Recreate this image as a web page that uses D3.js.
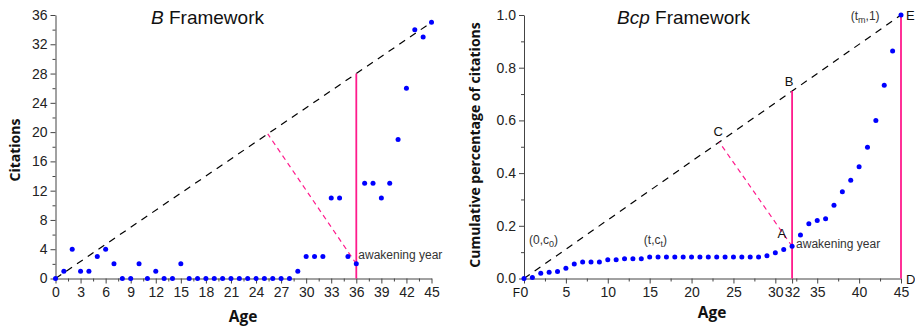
<!DOCTYPE html>
<html>
<head>
<meta charset="utf-8">
<script src="https://cdn.jsdelivr.net/npm/d3@7"></script>
<style>
  body { margin: 0; background: #fff; }
  svg text { font-family: "Liberation Sans", Arial, sans-serif; }
  .tick text { font-size: 14px; fill: #222; }
  .tick line, .domain { stroke: #444; }
  .title-axis { font-family: "Open Sans", sans-serif !important; font-weight: bold; font-size: 14px; fill: #111; }
  .note { font-size: 12px; fill: #333; }
</style>
</head>
<body>
<svg id="chart" width="915" height="328"></svg>
<script>
// citations per year of age (B framework)
const ages = d3.range(0, 46);
const citations = [0, 1, 4, 1, 1, 3, 4, 2, 0, 0, 2, 0, 1, 0, 0, 2,
    0, 0, 0, 0, 0, 0, 0, 0, 0, 0, 0, 0, 0, 1, 3, 3, 3, 11, 11, 3,
    2, 13, 13, 11, 13, 19, 26, 34, 33, 35];
// cumulative share of citations (Bcp framework)
const cumShare = [0, 0.004, 0.020, 0.024, 0.027, 0.039, 0.055, 0.063, 0.063, 0.063,
    0.071, 0.071, 0.075, 0.075, 0.075, 0.082, 0.082, 0.082, 0.082, 0.082,
    0.082, 0.082, 0.082, 0.082, 0.082, 0.082, 0.082, 0.082, 0.082, 0.086,
    0.098, 0.110, 0.122, 0.165, 0.208, 0.220, 0.227, 0.278, 0.329, 0.373,
    0.424, 0.498, 0.600, 0.733, 0.863, 1.0];

const leftXTicks = d3.range(0, 46, 3);
const leftYTicks = d3.range(0, 37, 4);
const rightXTicks = [0, 5, 10, 15, 20, 25, 30, 32, 35, 40, 45];
const rightYTicks = [0, 0.2, 0.4, 0.6, 0.8, 1.0];

const awakeB = 36, awakeBcp = 32, tMax = 45;

const svg = d3.select("#chart");
const pink = "#ff1a8c";
const blue = "#0000ff";

function drawAxes(x, y, xTicks, xMinor, yTicks, yMinor, yFmt) {
    const g = svg.append("g");
    g.append("g")
        .attr("transform", "translate(0," + y.range()[0] + ")")
        .call(d3.axisBottom(x).tickValues(xMinor).tickSize(3).tickFormat(""))
        .call(a => a.select(".domain").remove());
    g.append("g")
        .attr("transform", "translate(" + x.range()[0] + ",0)")
        .call(d3.axisLeft(y).tickValues(yMinor).tickSize(3).tickFormat(""))
        .call(a => a.select(".domain").remove());
    g.append("g")
        .attr("transform", "translate(0," + y.range()[0] + ")")
        .call(d3.axisBottom(x).tickValues(xTicks).tickSize(5).tickSizeOuter(0).tickPadding(4));
    g.append("g")
        .attr("transform", "translate(" + x.range()[0] + ",0)")
        .call(d3.axisLeft(y).tickValues(yTicks).tickSize(5).tickSizeOuter(0).tickPadding(3).tickFormat(yFmt));
    return g;
}

// perpendicular foot on the line from p0 to p1, in pixels
function foot(p, p0, p1) {
    const dx = p1[0] - p0[0], dy = p1[1] - p0[1];
    const t = ((p[0] - p0[0]) * dx + (p[1] - p0[1]) * dy) / (dx * dx + dy * dy);
    return [p0[0] + t * dx, p0[1] + t * dy];
}

// ---------- B framework ----------
const x1 = d3.scaleLinear().domain([0, 45]).range([55.5, 431.5]);
const y1 = d3.scaleLinear().domain([0, 36]).range([278.5, 15]);

drawAxes(x1, y1, leftXTicks, d3.range(1.5, 45, 3), leftYTicks, d3.range(2, 36, 4), d3.format("d"));

const a1 = [x1(0), y1(citations[0])], b1 = [x1(tMax), y1(citations[tMax])];
svg.append("line")
    .attr("x1", a1[0]).attr("y1", a1[1]).attr("x2", b1[0]).attr("y2", b1[1])
    .attr("stroke", "#000").attr("stroke-width", 1.2).attr("stroke-dasharray", "7,6");

const lineY1 = citations[tMax] / tMax * awakeB;
svg.append("line")
    .attr("x1", x1(awakeB)).attr("x2", x1(awakeB))
    .attr("y1", y1(0)).attr("y2", y1(lineY1))
    .attr("stroke", pink).attr("stroke-width", 1.8);

const p1 = [x1(awakeB), y1(citations[awakeB])];
const f1 = foot(p1, a1, b1);
svg.append("line")
    .attr("x1", p1[0]).attr("y1", p1[1]).attr("x2", f1[0]).attr("y2", f1[1])
    .attr("stroke", pink).attr("stroke-width", 1.2).attr("stroke-dasharray", "5,4");

svg.append("g").selectAll("circle")
    .data(ages)
    .join("circle")
    .attr("cx", d => x1(d))
    .attr("cy", d => y1(citations[d]))
    .attr("r", 2.5)
    .attr("fill", blue);

svg.append("text").attr("class", "note")
    .attr("x", x1(awakeB) + 2).attr("y", y1(citations[awakeB]) - 5)
    .text("awakening year");

const t1 = svg.append("text").attr("x", 151).attr("y", 24).style("font-size", "19px").attr("fill", "#111");
t1.append("tspan").style("font-style", "italic").text("B");
t1.append("tspan").text(" Framework");

svg.append("text").attr("class", "title-axis")
    .attr("transform", "translate(20,150) rotate(-90)")
    .attr("text-anchor", "middle").text("Citations");
svg.append("text").attr("class", "title-axis")
    .attr("x", 243).attr("y", 322).attr("text-anchor", "middle").style("font-size", "15.5px").text("Age");

// ---------- Bcp framework ----------
const x2 = d3.scaleLinear().domain([0, 45]).range([524, 901]);
const y2 = d3.scaleLinear().domain([0, 1]).range([278.5, 15]);

drawAxes(x2, y2, rightXTicks, d3.range(2.5, 45, 5), rightYTicks, d3.range(0.1, 1, 0.2), d3.format(".1f"));

const a2 = [x2(0), y2(0)], b2 = [x2(tMax), y2(1)];
svg.append("line")
    .attr("x1", a2[0]).attr("y1", a2[1]).attr("x2", b2[0]).attr("y2", b2[1])
    .attr("stroke", "#000").attr("stroke-width", 1.2).attr("stroke-dasharray", "7,6");

svg.append("line")
    .attr("x1", x2(awakeBcp)).attr("x2", x2(awakeBcp))
    .attr("y1", y2(0)).attr("y2", y2(awakeBcp / tMax))
    .attr("stroke", pink).attr("stroke-width", 1.8);
svg.append("line")
    .attr("x1", x2(tMax)).attr("x2", x2(tMax))
    .attr("y1", y2(0)).attr("y2", y2(1))
    .attr("stroke", pink).attr("stroke-width", 1.8);

const p2 = [x2(awakeBcp), y2(cumShare[awakeBcp])];
const f2 = foot(p2, a2, b2);
svg.append("line")
    .attr("x1", p2[0]).attr("y1", p2[1]).attr("x2", f2[0]).attr("y2", f2[1])
    .attr("stroke", pink).attr("stroke-width", 1.2).attr("stroke-dasharray", "5,4");

svg.append("g").selectAll("circle")
    .data(ages)
    .join("circle")
    .attr("cx", d => x2(d))
    .attr("cy", d => y2(cumShare[d]))
    .attr("r", 2.5)
    .attr("fill", blue);

svg.append("text").attr("class", "note")
    .attr("x", x2(awakeBcp) + 4).attr("y", y2(cumShare[awakeBcp]) + 2)
    .text("awakening year");

function label(txt, x, y, anchor, size) {
    return svg.append("text").attr("class", "note").style("font-size", (size || 13) + "px").style("fill", "#111")
        .attr("x", x).attr("y", y).attr("text-anchor", anchor || "middle").text(txt);
}
label("A", x2(awakeBcp - 1) - 2, y2(cumShare[awakeBcp]) - 8);
label("B", x2(awakeBcp) - 3, y2(awakeBcp / tMax) - 5);
label("C", f2[0] - 1, f2[1] - 6);
label("D", x2(tMax) + 5, y2(0) + 5, "start");
label("E", x2(tMax) + 5, y2(1) + 5, "start");
label("F", x2(0) - 4, y2(0) + 18, "end", 12);

function subLabel(pre, sub, post, x, y) {
    const t = svg.append("text").attr("class", "note").attr("x", x).attr("y", y);
    t.append("tspan").text(pre);
    t.append("tspan").attr("dy", 3).style("font-size", "9px").text(sub);
    t.append("tspan").attr("dy", -3).text(post);
}
subLabel("(0,c", "0", ")", x2(0) + 5, y2(0.13));
subLabel("(t,c", "t", ")", x2(14.3), y2(0.13));
subLabel("(t", "m", ",1)", x2(39), y2(0.98));

const t2 = svg.append("text").attr("x", 617).attr("y", 24).style("font-size", "19px").attr("fill", "#111");
t2.append("tspan").style("font-style", "italic").text("Bcp");
t2.append("tspan").text(" Framework");

svg.append("text").attr("class", "title-axis")
    .attr("transform", "translate(480,145) rotate(-90)")
    .attr("text-anchor", "middle").text("Cumulative percentage of citations");
svg.append("text").attr("class", "title-axis")
    .attr("x", 712).attr("y", 318).attr("text-anchor", "middle").style("font-size", "15.5px").text("Age");
</script>
</body>
</html>
